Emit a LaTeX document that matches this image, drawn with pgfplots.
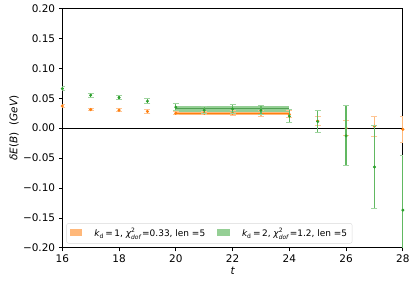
\documentclass[border={6bp 5bp 2bp 1bp}]{standalone}
\usepackage{pgfplots}
\pgfplotsset{compat=1.18}
\usepackage{fontspec}
\setmainfont{DejaVu Sans}
\definecolor{mplorange}{HTML}{FF7F0E}
\definecolor{mplgreen}{HTML}{2CA02C}
\newcommand{\chidof}{{\itshape χ}\rlap{\raisebox{0.8ex}{\fontsize{6}{6}\selectfont 2}}\raisebox{-0.65ex}{\fontsize{6}{6}\selectfont\itshape dof}}
\begin{document}
\fontsize{10.5}{12}\selectfont
\begin{tikzpicture}
\begin{axis}[
  scale only axis,
  width=340bp, height=239bp,
  xmin=16, xmax=28, ymin=-0.2, ymax=0.2,
  xtick={16,18,...,28},
  ytick={-0.2,-0.15,-0.1,-0.05,0,0.05,0.1,0.15,0.2},
  /pgf/number format/assume math mode=true,
  yticklabel={\pgfmathparse{abs(\tick)}\ifdim\tick pt<-0.0001pt −\fi\pgfmathprintnumber[fixed,fixed zerofill,precision=2]{\pgfmathresult}},
  tick align=outside,
  tick pos=left,
  major tick length=3.5bp,
  axis line style={line width=0.8pt},
  tick style={line width=0.8pt, black},
  xlabel={\itshape t},
  ylabel={{\itshape δE}({\itshape B})\ \ ({\itshape GeV})},
  xlabel style={yshift=3bp},
  ylabel style={yshift=-3bp},
  legend style={at={(0.012,0.018)}, anchor=south west, draw=black!15, rounded corners=2pt,
     font=\fontsize{9}{11}\selectfont, inner sep=3pt, column sep=10bp,
     legend cell align=left},
  legend columns=2,
  clip mode=individual,
]
% bands
\addplot[draw=none, fill=mplorange, fill opacity=0.55,
  legend image code/.code={\fill[mplorange, fill opacity=0.55, sharp corners] (0cm,-0.1cm) rectangle (0.45cm,0.14cm);}]
  coordinates {(20,0.0222) (24,0.0222) (24,0.0278) (20,0.0278)} -- cycle;
\addlegendentry{{\itshape k}\textsubscript{d}\,=\,1,\ \chidof\,=0.33, len =5}
\addplot[draw=none, fill=mplgreen, fill opacity=0.5,
  legend image code/.code={\fill[mplgreen, fill opacity=0.5, sharp corners] (0cm,-0.1cm) rectangle (0.45cm,0.14cm);}]
  coordinates {(20,0.0275) (24,0.0275) (24,0.0365) (20,0.0365)} -- cycle;
\addlegendentry{{\itshape k}\textsubscript{d}\,=\,2,\ \chidof\,=1.2, len =5}
\addplot[mplorange, line width=1pt, forget plot] coordinates {(20,0.025) (24,0.025)};
\addplot[mplgreen!80!black, line width=1pt, opacity=0.6, forget plot] coordinates {(20,0.032) (24,0.032)};
% zero line
\addplot[black, line width=1pt, forget plot] coordinates {(16,0) (28,0)};
% orange data
\addplot[forget plot, only marks, mark=*, mark size=1.4pt, color=mplorange,
  error bars/.cd, y dir=both, y explicit,
  error bar style={mplorange!55, line width=1.2pt},
  error mark options={rotate=90, mark size=3bp, mplorange!45, line width=1pt}]
  table[x=t, y=y, y error=e] {
t y e
16 0.037 0.002
17 0.031 0.002
18 0.030 0.002
19 0.028 0.003
20 0.025 0.003
21 0.025 0.003
22 0.025 0.004
23 0.024 0.005
24 0.023 0.006
25 0.012 0.007
26 0.000 0.012
27 0.003 0.017
28 -0.002 0.022
};
% green data
\addplot[forget plot, only marks, mark=*, mark size=1.3pt, color=mplgreen,
  error bars/.cd, y dir=both, y explicit,
  error bar style={mplgreen!75, line width=1.2pt},
  error mark options={rotate=90, mark size=3bp, mplgreen!45, line width=1pt}]
  table[x=t, y=y, y error=e] {
t y e
16 0.066 0.003
17 0.055 0.003
18 0.051 0.003
19 0.045 0.004
20 0.035 0.006
21 0.030 0.006
22 0.032 0.007
23 0.030 0.008
24 0.020 0.011
25 0.011 0.019
26 -0.013 0.050
27 -0.065 0.070
28 -0.137 0.092
};
\end{axis}
\end{tikzpicture}
\end{document}
